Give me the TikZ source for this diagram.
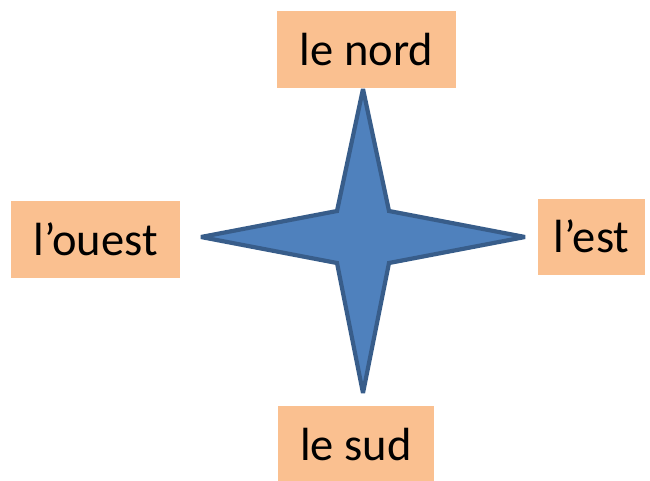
\documentclass[tikz,border=0pt]{standalone}
\usepackage{fontspec}
\setmainfont{Carlito}
\definecolor{boxfill}{HTML}{FAC090}
\definecolor{starfill}{HTML}{4F81BD}
\definecolor{starline}{HTML}{385D8A}
\begin{document}
\begin{tikzpicture}[x=1pt,y=-1pt,
  dirbox/.style={rectangle, fill=boxfill, inner sep=0pt, text height=39pt, text depth=8pt,
    font=\fontsize{46.5}{52}\selectfont, anchor=center}]
\useasboundingbox (0,0) rectangle (650,480);
\fill[starfill, draw=starline, line width=4.2pt, line join=miter, miter limit=4]
  (363,89) -- (389,211) -- (525,237) -- (389,263) -- (363,393)
  -- (337,263) -- (201,237) -- (337,211) -- cycle;
\node[dirbox, minimum width=179pt, minimum height=77pt] (nord) at (366.5,49.5) {le nord};
\node[dirbox, minimum width=169pt, minimum height=77pt] (ouest) at (95.5,239.5) {l’ouest};
\node[dirbox, minimum width=107pt, minimum height=76pt] (est) at (591.5,237) {l’est};
\node[dirbox, minimum width=156pt, minimum height=77pt] (sud) at (356,444.5) {le sud};
\end{tikzpicture}
\end{document}
